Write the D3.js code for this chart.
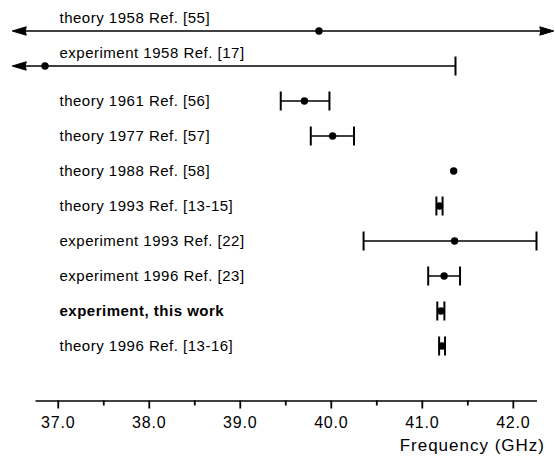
<!DOCTYPE html>
<html>
<head>
<meta charset="utf-8">
<script src="https://cdn.jsdelivr.net/npm/d3@7"></script>
<style>
  html, body { margin: 0; padding: 0; background: #fff; }
  svg { display: block; }
  text { font-family: "Liberation Sans", Arial, Helvetica, sans-serif; fill: #000; }
</style>
</head>
<body>
<svg id="chart" width="555" height="461"></svg>
<script>
// ---- data ----
const labels = [
  "theory 1958 Ref. [55]",
  "experiment 1958 Ref. [17]",
  "theory 1961 Ref. [56]",
  "theory 1977 Ref. [57]",
  "theory 1988 Ref. [58]",
  "theory 1993 Ref. [13-15]",
  "experiment 1993 Ref. [22]",
  "experiment 1996 Ref. [23]",
  "experiment, this work",
  "theory 1996 Ref. [13-16]"
];
const values = [39.87, 36.86, 39.71, 40.02, 41.35, 41.195, 41.36, 41.245, 41.21, 41.222];
const lower  = [36.50, 36.50, 39.45, 39.78, null, 41.16, 40.36, 41.07, 41.17, 41.19];
const upper  = [42.45, 41.37, 39.985, 40.255, null, 41.228, 42.26, 41.42, 41.248, 41.255];
const lowerOpen = [true, true, false, false, false, false, false, false, false, false];
const upperOpen = [true, false, false, false, false, false, false, false, false, false];
const boldRow = [false, false, false, false, false, false, false, false, true, false];
const majorTicks = [37.0, 38.0, 39.0, 40.0, 41.0, 42.0];
const minorTicks = [37.5, 38.5, 39.5, 40.5, 41.5];
const axisTitle = "Frequency (GHz)";

// ---- layout ----
const svg = d3.select("#chart");
const x = d3.scaleLinear().domain([36.75, 42.26]).range([35, 536.5]);
const y = d3.scalePoint().domain(d3.range(labels.length)).range([31, 346]);
const axisY = 400.5;
const labelX = 59.5;
const capH = 9.5;

const rows = labels.map((l, i) => ({
  i, label: l, v: values[i], lo: lower[i], hi: upper[i],
  loOpen: lowerOpen[i], hiOpen: upperOpen[i], bold: boldRow[i]
}));

// labels
svg.append("g").selectAll("text").data(rows).join("text")
  .attr("x", labelX)
  .attr("y", d => d.i < 2 ? y(d.i) - 13 : y(d.i))
  .attr("dy", "0.35em")
  .style("font-size", "15px")
  .style("letter-spacing", "0.5px")
  .style("font-weight", d => d.bold ? "bold" : "normal")
  .text(d => d.label);

// error bar lines
const g = svg.append("g");
const withBars = rows.filter(d => d.lo != null && d.hi != null);
g.selectAll("line.bar").data(withBars).join("line")
  .attr("class", "bar")
  .attr("x1", d => x(d.lo) + (d.loOpen ? 10 : 0))
  .attr("x2", d => x(d.hi) - (d.hiOpen ? 10 : 0))
  .attr("y1", d => y(d.i)).attr("y2", d => y(d.i))
  .attr("stroke", "#000").attr("stroke-width", 1.7);

// caps
const caps = [];
withBars.forEach(d => {
  if (!d.loOpen) caps.push({ i: d.i, v: d.lo });
  if (!d.hiOpen) caps.push({ i: d.i, v: d.hi });
});
g.selectAll("line.cap").data(caps).join("line")
  .attr("class", "cap")
  .attr("x1", d => x(d.v)).attr("x2", d => x(d.v))
  .attr("y1", d => y(d.i) - capH).attr("y2", d => y(d.i) + capH)
  .attr("stroke", "#000").attr("stroke-width", 2);

// arrows
const arrows = [];
withBars.forEach(d => {
  if (d.loOpen) arrows.push({ i: d.i, v: d.lo, dir: -1 });
  if (d.hiOpen) arrows.push({ i: d.i, v: d.hi, dir: 1 });
});
g.selectAll("path.arrow").data(arrows).join("path")
  .attr("class", "arrow")
  .attr("d", d => {
    const tx = x(d.v), ty = y(d.i), L = 14, H = 4.2;
    return `M${tx},${ty} L${tx - d.dir * L},${ty - H} L${tx - d.dir * (L - 1)},${ty} L${tx - d.dir * L},${ty + H} Z`;
  })
  .attr("fill", "#000").attr("stroke", "#000").attr("stroke-width", 1);

// points
g.selectAll("circle").data(rows).join("circle")
  .attr("cx", d => x(d.v)).attr("cy", d => y(d.i)).attr("r", 3.7)
  .attr("fill", "#000");

// axis
const axis = d3.axisBottom(x).tickValues(majorTicks)
  .tickFormat(d3.format(".1f")).tickSize(8).tickPadding(8).tickSizeOuter(0);
const ax = svg.append("g").attr("transform", `translate(0,${axisY})`).call(axis);
ax.select(".domain").attr("stroke-width", 1.7);
ax.selectAll(".tick line").attr("stroke-width", 1.8);
ax.selectAll(".tick text").style("font-size", "16px").style("letter-spacing", "0.8px")
  .style("font-family", "'Liberation Sans', Arial, Helvetica, sans-serif").attr("fill", "#000");
const minor = d3.axisBottom(x).tickValues(minorTicks).tickFormat("").tickSize(5).tickSizeOuter(0);
const mx = svg.append("g").attr("transform", `translate(0,${axisY})`).call(minor);
mx.select(".domain").remove();
mx.selectAll(".tick line").attr("stroke-width", 1.8);

svg.append("text")
  .attr("x", 545).attr("y", 451)
  .attr("text-anchor", "end")
  .style("font-size", "17px").style("letter-spacing", "1px")
  .text(axisTitle);
</script>
</body>
</html>
